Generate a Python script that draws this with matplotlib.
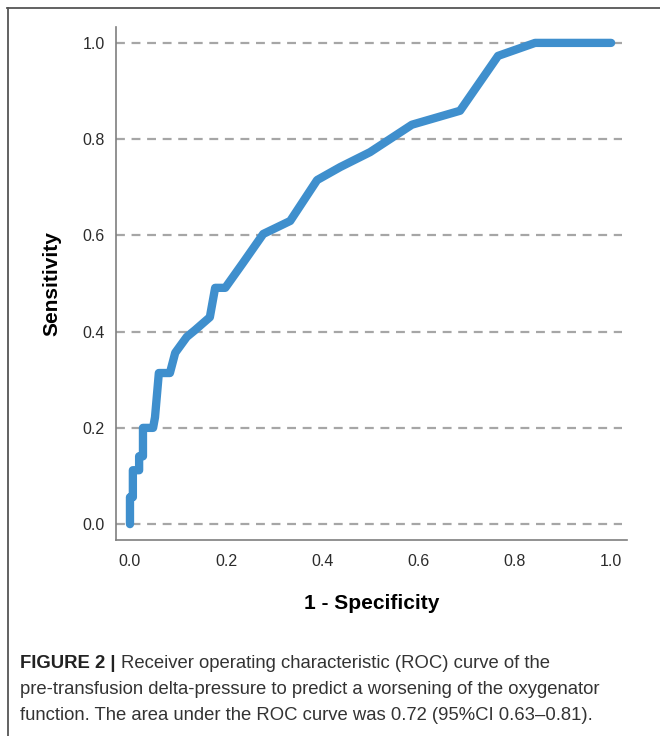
import matplotlib.pyplot as plt
from matplotlib.lines import Line2D

# ROC curve points
fpr = [0.0, 0.0, 0.006, 0.006, 0.019, 0.019, 0.027, 0.027, 0.048, 0.052, 0.060,
       0.083, 0.094, 0.118, 0.135, 0.166, 0.177, 0.198, 0.235, 0.277, 0.333,
       0.389, 0.437, 0.499, 0.586, 0.686, 0.765, 0.842, 1.0]
tpr = [0.0, 0.056, 0.056, 0.112, 0.112, 0.141, 0.141, 0.200, 0.200, 0.222, 0.314,
       0.314, 0.356, 0.389, 0.403, 0.430, 0.491, 0.491, 0.543, 0.603, 0.630,
       0.715, 0.742, 0.773, 0.830, 0.859, 0.973, 1.0, 1.0]
ticks = [0.0, 0.2, 0.4, 0.6, 0.8, 1.0]
tick_labels = ['0.0', '0.2', '0.4', '0.6', '0.8', '1.0']

plt.rcParams['font.family'] = ['Liberation Sans', 'DejaVu Sans']

fig = plt.figure(figsize=(6.6, 7.36), dpi=100)
ax = fig.add_axes([0.1758, 0.2663, 0.7742, 0.6970])

for t in ticks:
    ax.axhline(t, xmin=0, xmax=0.99, color='#a6a6a6', lw=1.6,
               linestyle=(0, (4, 3)), zorder=1)

ax.plot(fpr, tpr, color='#3f8fcd', lw=6, solid_capstyle='round',
        solid_joinstyle='round', zorder=3)

ax.set_xlim(-0.029, 1.033)
ax.set_ylim(-0.033, 1.033)
ax.set_xticks(ticks)
ax.set_xticklabels(tick_labels)
ax.set_yticks(ticks)
ax.set_yticklabels(tick_labels)
ax.tick_params(length=0, labelsize=11.5, labelcolor='#2b2b2b')
ax.tick_params(axis='y', pad=8)
ax.tick_params(axis='x', pad=10)

for s in ['top', 'right']:
    ax.spines[s].set_visible(False)
for s in ['left', 'bottom']:
    ax.spines[s].set_color('#7f7f7f')
    ax.spines[s].set_linewidth(1.2)

ax.set_xlabel('1 - Specificity', fontsize=15, fontweight='bold', labelpad=18)
ax.set_ylabel('Sensitivity', fontsize=15, fontweight='bold', labelpad=15)

# outer border (top and left edges visible)
fig.add_artist(Line2D([7 / 660, 1.0], [1 - 8 / 736, 1 - 8 / 736],
                      transform=fig.transFigure, color='#555555', lw=1.3))
fig.add_artist(Line2D([8 / 660, 8 / 660], [0.0, 1 - 8 / 736],
                      transform=fig.transFigure, color='#555555', lw=1.3))

# caption
cap_x = 20 / 660
cap_size = 13.3
head = fig.text(cap_x, 1 - 663 / 736, 'FIGURE 2 |', fontsize=cap_size,
                fontweight='bold', color='#222222', va='center')
ax.annotate('Receiver operating characteristic (ROC) curve of the',
            xy=(1, 0.5), xycoords=head, xytext=(4, 0), textcoords='offset points',
            fontsize=cap_size, color='#333333', va='center', ha='left')
fig.text(cap_x, 1 - 689 / 736,
         'pre-transfusion delta-pressure to predict a worsening of the oxygenator',
         fontsize=cap_size, color='#333333', va='center')
fig.text(cap_x, 1 - 715 / 736,
         'function. The area under the ROC curve was 0.72 (95%CI 0.63\u20130.81).',
         fontsize=cap_size, color='#333333', va='center')

fig.savefig('out.png', dpi=100)
